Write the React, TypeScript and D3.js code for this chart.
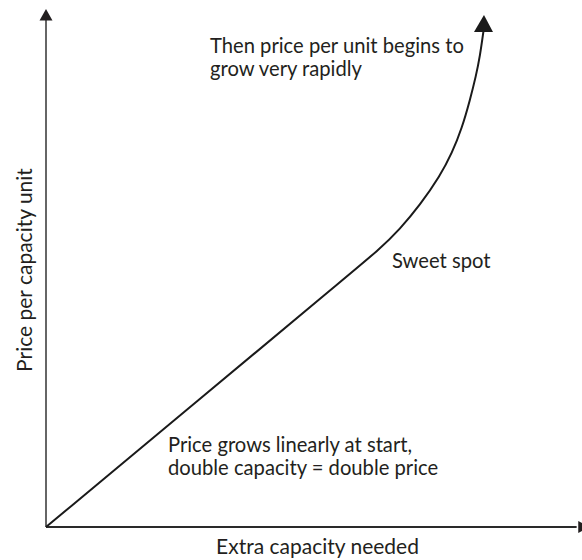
import React from "react";
import * as d3 from "d3";

const curveX = [0, 28.73, 54.85, 62.31, 66.04, 69.78, 73.51, 75.75, 77.61, 79.1, 80.22, 80.97, 81.62];
const curveY = [0, 24.71, 47.3, 53.67, 57.53, 62.16, 67.76, 72.2, 77.03, 82.43, 87.07, 90.93, 95.75];
const topNote = ["Then price per unit begins to", "grow very rapidly"];
const midNote = ["Sweet spot"];
const lowNote = ["Price grows linearly at start,", "double capacity = double price"];
const xLabel = "Extra capacity needed";
const yLabel = "Price per capacity unit";

const W = 582;
const H = 560;
const FONT = "Lato, 'Noto Sans', sans-serif";
const FS = 20.2;
const FS_AXIS = 21;

export default function App() {
  const x = d3.scaleLinear().domain([0, 100]).range([46, 582]);
  const y = d3.scaleLinear().domain([0, 100]).range([527, 9]);
  const pts: [number, number][] = curveX.map((v, i) => [v, curveY[i]]);
  const line = d3
    .line<[number, number]>()
    .x((d) => x(d[0]))
    .y((d) => y(d[1]))
    .curve(d3.curveBasis);
  const last = pts[pts.length - 1];
  const ax = x(last[0]);
  const ay = y(last[1]);
  const x0 = x(0);
  const y0 = y(0);
  const textColor = "#231f20";
  return (
    <svg
      width={W}
      height={H}
      style={{ position: "absolute", left: 0, top: 0, background: "#fff" }}
      fontFamily={FONT}
    >
      {/* Y axis */}
      <line x1={x0} y1={y0} x2={x0} y2={y(98)} stroke="#666" strokeWidth={2} />
      <polygon
        points={`${x0 - 6.5},${y(97.8)} ${x0 + 6.5},${y(97.8)} ${x0},${y(100)}`}
        fill="#231f20"
      />
      {/* X axis */}
      <line x1={x0} y1={y0} x2={x(99)} y2={y0} stroke="#2a2a2a" strokeWidth={2} />
      <polygon
        points={`${x(99.3)},${y0 - 6} ${x(99.3)},${y0 + 6} ${x(101.5)},${y0}`}
        fill="#231f20"
      />
      {/* curve */}
      <path d={line(pts) || ""} fill="none" stroke="#1a1a1a" strokeWidth={2} />
      <polygon
        points={`${ax - 9.5},${ay + 1} ${ax + 9.5},${ay + 1} ${ax + 0.5},${ay - 16}`}
        fill="#1a1a1a"
      />
      {/* annotations */}
      <text fontSize={FS} fill={textColor}>
        {topNote.map((t, i) => (
          <tspan key={i} x={210} y={53 + i * 23}>
            {t}
          </tspan>
        ))}
      </text>
      <text x={392} y={268} fontSize={FS} fill={textColor}>
        {midNote[0]}
      </text>
      <text fontSize={FS} fill={textColor}>
        {lowNote.map((t, i) => (
          <tspan key={i} x={168} y={452 + i * 23}>
            {t}
          </tspan>
        ))}
      </text>
      <text x={317.5} y={554} fontSize={FS_AXIS} fill={textColor} textAnchor="middle">
        {xLabel}
      </text>
      <text
        transform={`translate(32,270) rotate(-90)`}
        fontSize={FS_AXIS}
        fill={textColor}
        textAnchor="middle"
      >
        {yLabel}
      </text>
    </svg>
  );
}
